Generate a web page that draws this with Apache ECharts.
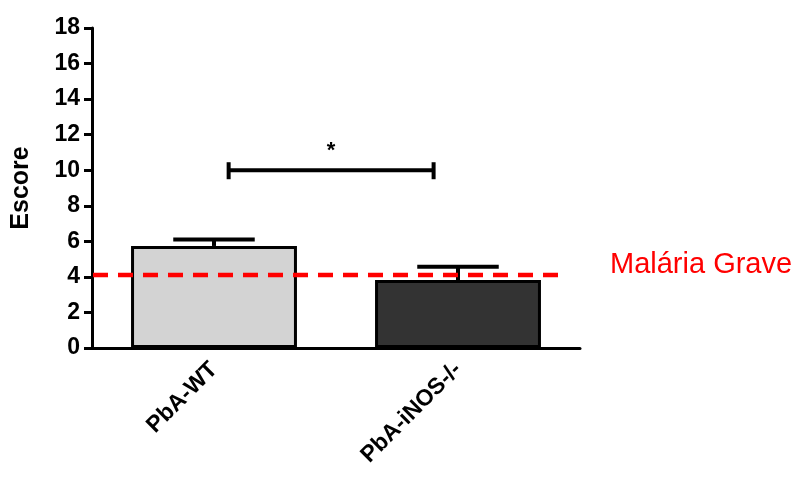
<!DOCTYPE html>
<html>
<head>
<meta charset="utf-8">
<script src="https://cdn.jsdelivr.net/npm/echarts@6/dist/echarts.min.js"></script>
<style>
  html, body { margin: 0; padding: 0; background: #fff; }
  #chart { width: 797px; height: 478px; }
</style>
</head>
<body>
<div id="chart"></div>
<script>
// Groups and their mean score with standard error
const categories = ['PbA-WT', 'PbA-iNOS-/-'];
const means = [5.74, 3.82];
const sems = [0.37, 0.75];
const barColors = ['#d3d3d3', '#333333'];

// Severe-malaria threshold line
const thresholdValue = 4.1;
const thresholdLabel = 'Malária Grave';

// Significance bracket between the two groups
const sigPair = [0, 1];
const sigLevel = 10;
const sigMark = '*';

// Y axis scale
const yMin = 0;
const yMax = 18;
const yStep = 2;

const FONT = 'Liberation Sans, Arial, sans-serif';

const chart = echarts.init(document.getElementById('chart'));

chart.setOption({
  animation: false,
  grid: { left: 92, right: 217, top: 28, bottom: 130, containLabel: false },
  xAxis: {
    type: 'category',
    data: categories,
    axisLine: { lineStyle: { color: '#000', width: 3 } },
    axisTick: { alignWithLabel: true, length: 8, lineStyle: { color: '#000', width: 3 } },
    axisLabel: {
      rotate: 45, margin: 18, color: '#000',
      fontFamily: FONT, fontWeight: 'bold', fontSize: 23
    }
  },
  yAxis: {
    type: 'value',
    min: yMin, max: yMax, interval: yStep,
    name: 'Escore',
    nameLocation: 'middle',
    nameGap: 58,
    nameTextStyle: { color: '#000', fontFamily: FONT, fontWeight: 'bold', fontSize: 25 },
    splitLine: { show: false },
    axisLine: { show: true, lineStyle: { color: '#000', width: 3 } },
    axisTick: { show: true, length: 8, lineStyle: { color: '#000', width: 3 } },
    axisLabel: { margin: 12, color: '#000', fontFamily: FONT, fontWeight: 'bold', fontSize: 23 }
  },
  series: [
    {
      type: 'bar',
      barWidth: '68%',
      z: 2,
      data: means.map((v, i) => ({
        value: v,
        itemStyle: { color: barColors[i], borderColor: '#000', borderWidth: 3 }
      }))
    },
    {
      // upper error bars
      type: 'custom',
      z: 3,
      data: means.map((v, i) => [i, v, v + sems[i]]),
      renderItem: function (params, api) {
        const base = api.coord([api.value(0), api.value(1)]);
        const top = api.coord([api.value(0), api.value(2)]);
        const half = api.size([1, 0])[0] * 0.167;
        const style = { stroke: '#000', lineWidth: 4, fill: null };
        return {
          type: 'group',
          children: [
            { type: 'line', shape: { x1: base[0], y1: base[1], x2: top[0], y2: top[1] }, style: style },
            { type: 'line', shape: { x1: top[0] - half, y1: top[1], x2: top[0] + half, y2: top[1] }, style: style }
          ]
        };
      }
    },
    {
      // significance bracket
      type: 'custom',
      z: 3,
      data: [[sigPair[0], sigPair[1], sigLevel]],
      renderItem: function (params, api) {
        const band = api.size([1, 0])[0];
        const a = api.coord([api.value(0), api.value(2)]);
        const b = api.coord([api.value(1), api.value(2)]);
        const x1 = a[0] + band * 0.06;
        const x2 = b[0] - band * 0.1;
        const y = a[1];
        const style = { stroke: '#000', lineWidth: 4, fill: null };
        return {
          type: 'group',
          children: [
            { type: 'line', shape: { x1: x1, y1: y, x2: x2, y2: y }, style: style },
            { type: 'line', shape: { x1: x1, y1: y - 8, x2: x1, y2: y + 9 }, style: style },
            { type: 'line', shape: { x1: x2, y1: y - 8, x2: x2, y2: y + 9 }, style: style },
            {
              type: 'text',
              style: {
                x: (x1 + x2) / 2, y: y - 8, text: sigMark,
                fill: '#000', font: 'bold 22px ' + FONT,
                textAlign: 'center', textVerticalAlign: 'bottom'
              }
            }
          ]
        };
      }
    },
    {
      // threshold dashed line with its label
      type: 'custom',
      z: 5,
      data: [[0, thresholdValue]],
      renderItem: function (params, api) {
        const cs = params.coordSys;
        const y = api.coord([0, api.value(1)])[1];
        const xEnd = cs.x + cs.width - 20;
        return {
          type: 'group',
          children: [
            {
              type: 'line',
              shape: { x1: cs.x + 1, y1: y, x2: xEnd, y2: y },
              style: { stroke: '#ff0000', lineWidth: 4.5, lineDash: [15, 10] }
            },
            {
              type: 'text',
              style: {
                x: cs.x + cs.width + 30, y: y - 10, text: thresholdLabel,
                fill: '#ff0000', font: '29px ' + FONT,
                textAlign: 'left', textVerticalAlign: 'middle'
              }
            }
          ]
        };
      }
    }
  ]
});
</script>
</body>
</html>
